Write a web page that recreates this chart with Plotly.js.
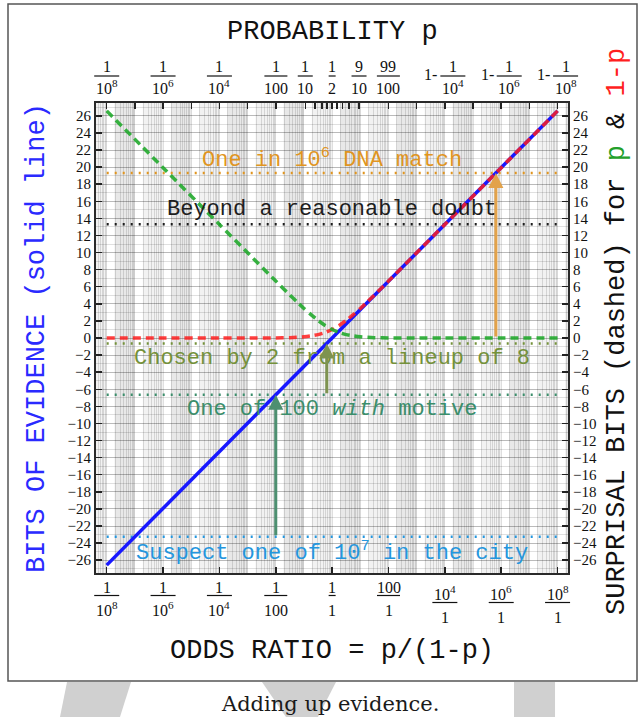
<!DOCTYPE html>
<html>
<head>
<meta charset="utf-8">
<script src="https://cdn.plot.ly/plotly-3.0.1.min.js"></script>
<style>
  html, body { margin: 0; padding: 0; background: #fff; }
  #chart { width: 640px; height: 717px; }
</style>
</head>
<body>
<div id="chart"></div>
<script>
// ---------------- data ----------------
// x values are log10 of the odds ratio p/(1-p)
const oddsExp = [-8, -6, -4, -3, -2, -1.5, -1.25, -1, -0.75, -0.5, -0.25, 0,
                 0.25, 0.5, 0.75, 1, 1.25, 1.5, 2, 3, 4, 6, 8];
// bits of evidence (solid line)
const evidenceBits = [-26.58, -19.93, -13.29, -9.97, -6.64, -4.98, -4.15, -3.32, -2.49, -1.66, -0.83, 0,
                      0.83, 1.66, 2.49, 3.32, 4.15, 4.98, 6.64, 9.97, 13.29, 19.93, 26.58];
// surprisal bits for 1-p (red dashed)
const surprisalNotP = [0, 0, 0, 0, 0.01, 0.04, 0.08, 0.14, 0.24, 0.40, 0.64, 1,
                       1.47, 2.06, 2.73, 3.46, 4.23, 5.03, 6.66, 9.97, 13.29, 19.93, 26.58];
// surprisal bits for p (green dashed)
const surprisalP = [26.58, 19.93, 13.29, 9.97, 6.66, 5.03, 4.23, 3.46, 2.73, 2.06, 1.47, 1,
                    0.64, 0.40, 0.24, 0.14, 0.08, 0.04, 0.01, 0, 0, 0, 0];

// evidence levels (dotted lines) and their captions
const levelText = ['One in 10<sup>6</sup> DNA match',
                   'Beyond a reasonable doubt',
                   'Chosen by 2 from a lineup of 8',
                   'One of 100 <i>with</i> motive',
                   'Suspect one of 10<sup>7</sup> in the city'];
const levelBits = [19.3, 13.3, -0.63, -6.64, -23.25];
const levelAbove = [true, true, false, false, false];
const levelColor = ['#e0951f', '#1e1e1e', '#74913a', '#3b8e6b', '#2596dd'];

// arrows: where each piece of evidence moves the total
const arrowOdds = [-2, -0.19, 5.81];
const arrowFrom = [-23.25, -6.64, 0];
const arrowTo   = [-6.64, -0.63, 19.3];
const arrowColor = ['#4d8f70', '#7e9350', '#e2a24a'];

// bottom axis: odds ratio
const oddsTickPos = [-8, -6, -4, -2, 0, 2, 4, 6, 8];
const oddsTickNum = ['1', '1', '1', '1', '1', '100', '10<sup>4</sup>', '10<sup>6</sup>', '10<sup>8</sup>'];
const oddsTickDen = ['10<sup>8</sup>', '10<sup>6</sup>', '10<sup>4</sup>', '100', '1', '1', '1', '1', '1'];

// top axis: probability
const probTickPos = [-8, -6, -4, -1.996, -0.954, 0, 0.954, 1.996, 4, 6, 8];
const probTickPre = ['', '', '', '', '', '', '', '', '1-', '1-', '1-'];
const probTickNum = ['1', '1', '1', '1', '1', '1', '9', '99', '1', '1', '1'];
const probTickDen = ['10<sup>8</sup>', '10<sup>6</sup>', '10<sup>4</sup>', '100', '10', '2', '10', '100',
                     '10<sup>4</sup>', '10<sup>6</sup>', '10<sup>8</sup>'];
const probTickMarks = [-8, -7, -6, -5, -4, -3, -1.996, -0.954, -0.602, -0.368, -0.176, 0,
                       0.176, 0.368, 0.602, 0.954, 1.996, 3, 4, 5, 6, 7, 8];

// bits axis ticks
const bitTicks = [-26, -24, -22, -20, -18, -16, -14, -12, -10, -8, -6, -4, -2, 0,
                  2, 4, 6, 8, 10, 12, 14, 16, 18, 20, 22, 24, 26];

// ---------------- geometry ----------------
const W = 640, H = 717;
const M = {l: 96, r: 72, t: 103, b: 144};
const PW = W - M.l - M.r, PH = H - M.t - M.b;
const X_RANGE = [-8.38, 8.37];
const Y_RANGE = [-27.5, 27.5];
const pxX = px => (px - M.l) / PW;           // page pixel -> paper x
const pxY = py => (H - M.b - py) / PH;       // page pixel -> paper y
const paperOfOdds = v => (v - X_RANGE[0]) / (X_RANGE[1] - X_RANGE[0]);

const MONO = 'Liberation Mono, Courier New, monospace';
const SERIF = 'Liberation Serif, Times New Roman, serif';

// log grid: every integer multiple inside each decade
const gridX = [];
for (let n = -9; n <= 8; n++) {
  for (let k = 1; k <= 9; k++) {
    const v = n + Math.log10(k);
    if (v > X_RANGE[0] && v < X_RANGE[1]) gridX.push(v);
  }
}

// ---------------- traces ----------------
const traces = [];
const xEnds = [oddsTickPos[0], oddsTickPos[oddsTickPos.length - 1]];
levelBits.forEach((b, i) => {
  traces.push({
    x: xEnds, y: [b, b], xaxis: 'x', yaxis: 'y', mode: 'lines', hoverinfo: 'skip',
    line: {color: levelColor[i], width: 2.5, dash: '2px,6px'}
  });
});
traces.push({
  x: oddsExp, y: evidenceBits, xaxis: 'x', yaxis: 'y', mode: 'lines',
  line: {color: '#1818ff', width: 3.5}
});
traces.push({
  x: oddsExp, y: surprisalNotP, xaxis: 'x2', yaxis: 'y2', mode: 'lines', opacity: 0.85,
  line: {color: '#ff1f1f', width: 3.5, dash: '8px,5px', shape: 'spline', smoothing: 0.6}
});
traces.push({
  x: oddsExp, y: surprisalP, xaxis: 'x2', yaxis: 'y2', mode: 'lines', opacity: 0.9,
  line: {color: '#22aa2e', width: 3.5, dash: '8px,5px', shape: 'spline', smoothing: 0.6}
});

// ---------------- shapes & annotations ----------------
const shapes = [];
const annotations = [];

// alternating decade shading behind the grid
for (let n = -9; n <= 8; n++) {
  shapes.push({
    type: 'rect', layer: 'below', xref: 'x', yref: 'paper',
    x0: Math.max(n + 0.28, X_RANGE[0]), x1: Math.min(n + 1, X_RANGE[1]), y0: 0, y1: 1,
    fillcolor: (n % 2 === 0) ? 'rgba(0,0,0,0.09)' : 'rgba(0,0,0,0.05)', line: {width: 0}
  });
}

// outer frame
shapes.push({
  type: 'rect', xref: 'paper', yref: 'paper',
  x0: pxX(8), x1: pxX(637), y0: pxY(681), y1: pxY(4),
  line: {color: '#555', width: 1.5}, fillcolor: 'rgba(0,0,0,0)', layer: 'below'
});

// light grey backdrop pieces under the caption
const backdrop = [
  [[67, 682], [131, 682], [120, 717], [60, 717]],
  [[262, 682], [336, 682], [318, 717], [286, 717]],
  [[514, 682], [555, 682], [555, 717], [514, 717]]
];
backdrop.forEach(poly => {
  const d = poly.map((p, i) => (i ? 'L' : 'M') + pxX(p[0]).toFixed(4) + ',' + pxY(p[1]).toFixed(4)).join(' ') + ' Z';
  shapes.push({type: 'path', xref: 'paper', yref: 'paper', path: d,
               fillcolor: '#d0d0d0', line: {width: 0}, layer: 'below'});
});

// fraction tick labels
const FR_FONT = {family: SERIF, size: 16, color: '#111'};
function fracWidth(s) {
  const sup = (s.match(/<sup>(.*?)<\/sup>/g) || []).map(t => t.replace(/<\/?sup>/g, '')).join('');
  const main = s.replace(/<sup>.*?<\/sup>/g, '');
  return main.length * 8 + sup.length * 10 - 1;
}
function addFraction(pos, pre, num, den, side) {
  const top = side === 'top';
  const sgn = top ? 1 : -1;
  const edge = top ? 1 : 0;
  const o = top ? {num: 26.5, bar: 27, den: 4.5} : {num: 24.8, bar: 22.5, den: 48};
  const extra = (!top && num.indexOf('<sup>') >= 0) ? 7 : 0;
  const w = Math.max(fracWidth(num), fracWidth(den));
  const dx = pre ? 8 : 0;
  annotations.push({xref: 'x', yref: 'paper', x: pos, y: edge, xshift: dx, yshift: sgn * (o.num + extra),
    xanchor: 'center', yanchor: 'bottom', text: num, showarrow: false, font: FR_FONT});
  annotations.push({xref: 'x', yref: 'paper', x: pos, y: edge, xshift: dx, yshift: sgn * (o.den + extra),
    xanchor: 'center', yanchor: 'bottom', text: den, showarrow: false, font: FR_FONT});
  shapes.push({type: 'line', xref: 'paper', yref: 'paper',
    xsizemode: 'pixel', xanchor: paperOfOdds(pos), x0: dx - w / 2, x1: dx + w / 2,
    ysizemode: 'pixel', yanchor: edge, y0: sgn * (o.bar + extra), y1: sgn * (o.bar + extra),
    line: {color: '#111', width: 1.2}});
  if (pre) {
    annotations.push({xref: 'x', yref: 'paper', x: pos, y: edge, xshift: dx - w / 2 - 1, yshift: 18.5,
      xanchor: 'right', yanchor: 'bottom', text: pre, showarrow: false, font: FR_FONT});
  }
}
oddsTickPos.forEach((p, i) => addFraction(p, '', oddsTickNum[i], oddsTickDen[i], 'bottom'));
probTickPos.forEach((p, i) => addFraction(p, probTickPre[i], probTickNum[i], probTickDen[i], 'top'));

// evidence captions
levelText.forEach((t, i) => {
  annotations.push({xref: 'paper', yref: 'y', x: 0.5, y: levelBits[i], yshift: levelAbove[i] ? 15 : -15,
    xanchor: 'center', yanchor: 'middle', text: t, showarrow: false,
    font: {family: MONO, size: 22, color: levelColor[i]}});
});

// arrows
arrowOdds.forEach((x, i) => {
  annotations.push({xref: 'x', yref: 'y', x: x, y: arrowTo[i], axref: 'x', ayref: 'y', ax: x, ay: arrowFrom[i],
    text: '', showarrow: true, arrowhead: 2, arrowsize: 1, arrowwidth: 3, standoff: 0,
    arrowcolor: arrowColor[i]});
});

// axis titles and caption
annotations.push({xref: 'paper', yref: 'paper', x: 0.5, y: 1, yshift: 71, xanchor: 'center', yanchor: 'middle',
  text: 'PROBABILITY p', showarrow: false, font: {family: MONO, size: 27, color: '#111'}});
annotations.push({xref: 'paper', yref: 'paper', x: 0.5, y: 0, yshift: -78, xanchor: 'center', yanchor: 'middle',
  text: 'ODDS RATIO = p/(1-p)', showarrow: false, font: {family: MONO, size: 27, color: '#111'}});
annotations.push({xref: 'paper', yref: 'paper', x: 0, y: 0.5, xshift: -59, xanchor: 'center', yanchor: 'middle',
  textangle: -90, text: 'BITS OF EVIDENCE (solid line)', showarrow: false,
  font: {family: MONO, size: 27, color: '#2a2aff'}});
annotations.push({xref: 'paper', yref: 'paper', x: 1, y: 0.5, xshift: 49, yshift: 6, xanchor: 'center', yanchor: 'middle',
  textangle: -90,
  text: 'SURPRISAL BITS (dashed) for <span style="color:#22a02a">p</span> &amp; <span style="color:#ff1f1f">1-p</span>',
  showarrow: false, font: {family: MONO, size: 27, color: '#111'}});
annotations.push({xref: 'paper', yref: 'paper', x: pxX(330), y: pxY(704), xanchor: 'center', yanchor: 'middle',
  text: 'Adding up evidence.', showarrow: false, font: {family: 'DejaVu Serif, serif', size: 21, color: '#1a1a1a'}});

// ---------------- layout ----------------
const axisLine = {showline: true, linecolor: '#2a2a2a', linewidth: 2, zeroline: false, fixedrange: true};
const layout = {
  width: W, height: H, margin: M, showlegend: false,
  paper_bgcolor: '#fff', plot_bgcolor: '#fff',
  font: {family: SERIF, size: 15, color: '#111'},
  xaxis: Object.assign({}, axisLine, {
    range: X_RANGE, tickmode: 'array', tickvals: oddsTickPos, showticklabels: false,
    ticks: 'inside', ticklen: 6, tickwidth: 1.5, tickcolor: '#222', showgrid: false,
    minor: {tickmode: 'array', tickvals: gridX, showgrid: true, gridcolor: 'rgba(0,0,0,0.12)', gridwidth: 1}
  }),
  xaxis2: Object.assign({}, axisLine, {
    range: X_RANGE, overlaying: 'x', side: 'top', anchor: 'y', tickmode: 'array', tickvals: probTickMarks,
    showticklabels: false, ticks: 'inside', ticklen: 6, tickwidth: 1.5, tickcolor: '#222', showgrid: false
  }),
  yaxis: Object.assign({}, axisLine, {
    range: Y_RANGE, tickmode: 'array', tickvals: bitTicks, ticks: 'inside', ticklen: 6, tickwidth: 1.5,
    tickcolor: '#222', showgrid: true, gridcolor: 'rgba(0,0,0,0.17)', gridwidth: 1,
    tickfont: {family: SERIF, size: 15, color: '#111'},
    minor: {dtick: 1, tick0: 0, showgrid: true, gridcolor: 'rgba(0,0,0,0.12)', gridwidth: 1}
  }),
  yaxis2: Object.assign({}, axisLine, {
    range: Y_RANGE, overlaying: 'y', side: 'right', anchor: 'x', tickmode: 'array', tickvals: bitTicks,
    ticks: 'inside', ticklen: 6, tickwidth: 1.5, tickcolor: '#222', showgrid: false,
    tickfont: {family: SERIF, size: 15, color: '#111'}
  }),
  shapes: shapes,
  annotations: annotations
};

Plotly.newPlot('chart', traces, layout, {displayModeBar: false, staticPlot: true});
</script>
</body>
</html>
